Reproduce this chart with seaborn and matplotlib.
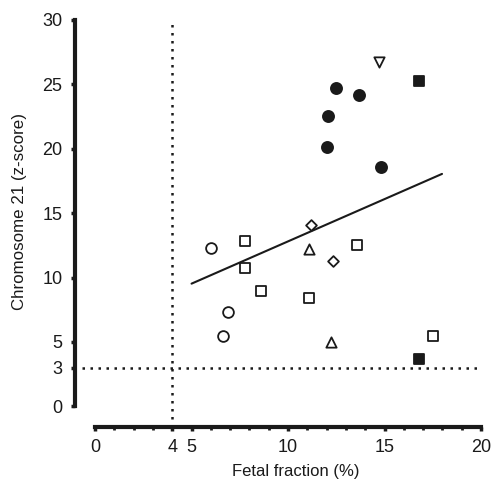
import matplotlib
matplotlib.use("Agg")
import matplotlib.pyplot as plt
from matplotlib.ticker import FixedLocator
import seaborn as sns
import pandas as pd
import numpy as np

# Data (fetal fraction %, chromosome 21 z-score)
open_circle_x = [5.99, 6.91, 6.61]
open_circle_y = [12.33, 7.33, 5.44]
filled_circle_x = [12.50, 13.69, 12.09, 12.00, 14.80]
filled_circle_y = [24.69, 24.19, 22.51, 20.12, 18.62]
open_square_x = [7.77, 7.77, 8.60, 11.09, 13.56, 17.50]
open_square_y = [12.82, 10.75, 8.96, 8.44, 12.51, 5.44]
filled_square_x = [16.80, 16.80]
filled_square_y = [25.23, 3.70]
triangle_up_x = [11.09, 12.21]
triangle_up_y = [12.25, 5.00]
triangle_down_x = [14.70]
triangle_down_y = [26.75]
diamond_x = [11.18, 12.31]
diamond_y = [14.12, 11.29]
fit_x = [5.0, 17.98]
fit_y = [9.53, 18.05]
x_ticks = [0, 4, 5, 10, 15, 20]
y_ticks = [0, 3, 5, 10, 15, 20, 25, 30]
fetal_cutoff = 4
z_cutoff = 3

sns.set_style("white")
plt.rcParams['font.family'] = ['Liberation Sans', 'DejaVu Sans']

fig = plt.figure(figsize=(4.92, 4.82), dpi=100)
ax = fig.add_axes([75/492, 55/482, (481-75)/492, (427-20)/482])

groups = [
    (open_circle_x, open_circle_y, 'o', 'white', 60),
    (filled_circle_x, filled_circle_y, 'o', '#1a1a1a', 64),
    (open_square_x, open_square_y, 's', 'white', 54),
    (filled_square_x, filled_square_y, 's', '#1a1a1a', 56),
    (triangle_up_x, triangle_up_y, '^', 'white', 55),
    (triangle_down_x, triangle_down_y, 'v', 'white', 55),
    (diamond_x, diamond_y, 'D', 'white', 30),
]
for gx, gy, m, fc, s in groups:
    df = pd.DataFrame({'x': gx, 'y': gy})
    sns.scatterplot(data=df, x='x', y='y', marker=m, s=s, facecolor=fc,
                    edgecolor='#1a1a1a', linewidth=1.3, ax=ax, zorder=3, clip_on=False)

sns.lineplot(x=fit_x, y=fit_y, color='#1a1a1a', linewidth=1.5, ax=ax)

ax.axvline(fetal_cutoff, ymin=0, ymax=1, color='#1a1a1a', linestyle=(0, (1, 2.2)), linewidth=1.8)
ax.plot([-0.67, 19.9], [z_cutoff, z_cutoff], color='#1a1a1a', linestyle=(0, (1, 2.2)), linewidth=1.8)

ax.set_xlim(-1.04, 20)
ax.set_ylim(-1.6, 30)
ax.spines['top'].set_visible(False)
ax.spines['right'].set_visible(False)
for sp in ['left', 'bottom']:
    ax.spines[sp].set_linewidth(3)
    ax.spines[sp].set_color('#1a1a1a')
ax.spines['left'].set_bounds(0, 30)
ax.spines['bottom'].set_bounds(0, 20)

ax.xaxis.set_major_locator(FixedLocator(x_ticks))
ax.yaxis.set_major_locator(FixedLocator(y_ticks))
ax.xaxis.set_minor_locator(FixedLocator(np.arange(1, 20, 1)))
ax.yaxis.set_minor_locator(FixedLocator([v for v in np.arange(0, 30.01, 5/3) if abs(v - round(v / 5) * 5) > 0.1]))
ax.set_xticklabels([str(t) for t in x_ticks])
ax.set_yticklabels([str(t) for t in y_ticks])
ax.tick_params(which='major', direction='out', length=3, width=2.5, color='#1a1a1a',
               labelsize=13, pad=6, left=True, bottom=True, labelcolor='#1a1a1a')
ax.tick_params(which='minor', direction='out', length=1.8, width=2, color='#1a1a1a', left=True, bottom=True)

ax.set_xlabel('Fetal fraction (%)', fontsize=12, color='#1a1a1a')
ax.set_ylabel('Chromosome 21 (z-score)', fontsize=12.2, color='#1a1a1a')
ax.xaxis.set_label_coords((296 - 75) / 406, (427 - 464) / 407)
ax.yaxis.set_label_coords((27 - 75) / 406, (427 - 211) / 407)

fig.savefig('out.png', dpi=100)
